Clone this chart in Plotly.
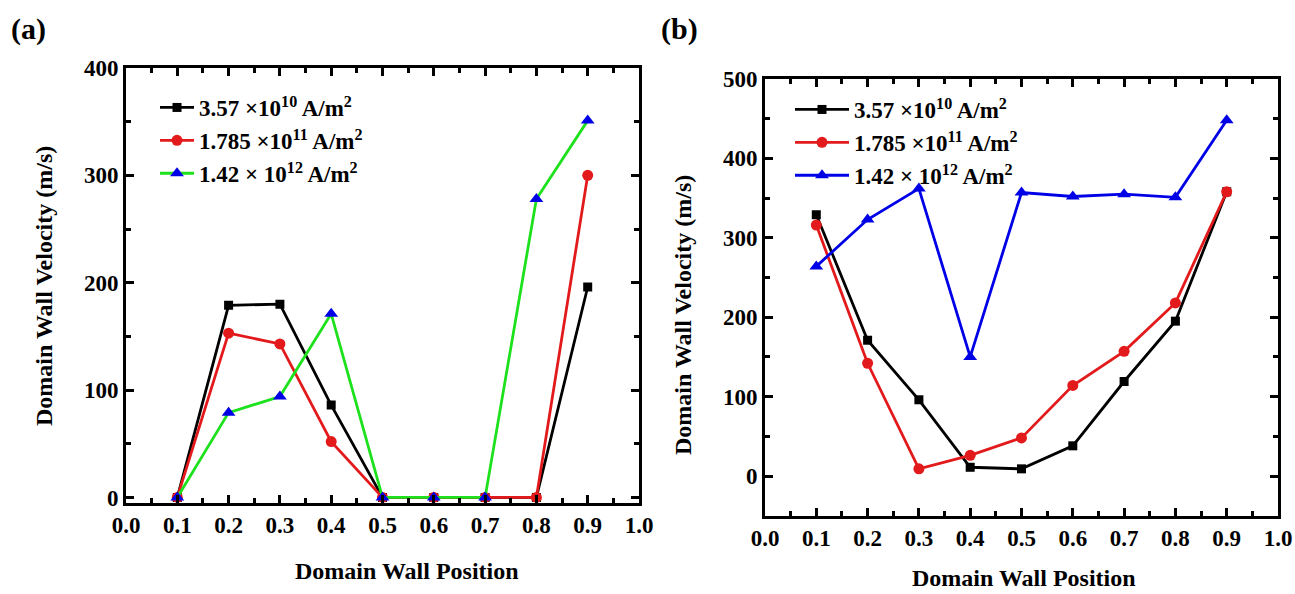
import plotly.graph_objects as go

W, H = 1295, 594

positions = [0.1, 0.2, 0.3, 0.4, 0.5, 0.6, 0.7, 0.8, 0.9]
series_names = [
    "3.57 ×10<sup>10</sup> A/m<sup>2</sup>",
    "1.785 ×10<sup>11</sup> A/m<sup>2</sup>",
    "1.42 × 10<sup>12</sup> A/m<sup>2</sup>",
]

# panel (a)
a_low = [0, 179, 180, 86, 0, 0, 0, 0, 196]
a_mid = [0, 153, 143, 52, 0, 0, 0, 0, 300]
a_high = [0, 79, 94, 171, 0, 0, 0, 278, 351]

# panel (b)
b_low = [329, 171, 96, 11, 9, 38, 119, 195, 358]
b_mid = [316, 142, 9, 26, 48, 114, 157, 218, 358]
b_high = [264, 323, 362, 150, 357, 352, 355, 351, 448]

x_ticks = [0.0, 0.1, 0.2, 0.3, 0.4, 0.5, 0.6, 0.7, 0.8, 0.9, 1.0]

FONT = "Liberation Serif, Times New Roman, Times, serif"
BLACK = "#000000"
RED = "#e31a1c"
GREEN = "#1ee11e"
BLUE = "#0000e6"


def px(x):
    return x / W


def py(y):
    return 1 - y / H


fig = go.Figure()

styles = [
    (BLACK, BLACK, "square", 9),
    (RED, RED, "circle", 11),
    (GREEN, BLUE, "triangle-up", 12),
]
for vals, name, (lc, mc, sym, ms) in zip(
    [a_low, a_mid, a_high], series_names, styles
):
    fig.add_trace(go.Scatter(
        x=positions, y=vals, name=name, mode="lines+markers",
        line=dict(color=lc, width=2.8),
        marker=dict(color=mc, symbol=sym, size=ms),
        xaxis="x", yaxis="y", legend="legend",
    ))

styles_b = [
    (BLACK, BLACK, "square", 9),
    (RED, RED, "circle", 11),
    (BLUE, BLUE, "triangle-up", 12),
]
for vals, name, (lc, mc, sym, ms) in zip(
    [b_low, b_mid, b_high], series_names, styles_b
):
    fig.add_trace(go.Scatter(
        x=positions, y=vals, name=name, mode="lines+markers",
        line=dict(color=lc, width=2.8),
        marker=dict(color=mc, symbol=sym, size=ms),
        xaxis="x2", yaxis="y2", legend="legend2",
    ))

tickfont = dict(family=FONT, size=23, color="black", weight="bold")


def xaxis(domain, anchor):
    return dict(
        domain=domain, anchor=anchor, range=[0, 1], automargin=False,
        tickmode="array", tickvals=x_ticks,
        ticktext=[f"{v:.1f}" for v in x_ticks],
        ticks="inside", ticklen=8, tickwidth=2.5, tickcolor="black",
        minor=dict(ticks="inside", ticklen=5, tickwidth=2.5, dtick=0.05,
                   tick0=0, tickcolor="black", showgrid=False),
        showline=True, linewidth=2.8, linecolor="black", mirror="allticks",
        showgrid=False, zeroline=False, tickfont=tickfont,
    )


def yaxis(domain, anchor, rng):
    return dict(
        domain=domain, anchor=anchor, range=rng, automargin=False,
        dtick=100, tick0=0,
        ticks="inside", ticklen=8, tickwidth=2.5, tickcolor="black",
        minor=dict(ticks="inside", ticklen=5, tickwidth=2.5, dtick=50,
                   tick0=0, tickcolor="black", showgrid=False),
        showline=True, linewidth=2.8, linecolor="black", mirror="allticks",
        showgrid=False, zeroline=False, tickfont=tickfont,
    )


legfont = dict(family=FONT, size=23, color="black", weight="bold")

fig.update_layout(
    template="none",
    width=W, height=H,
    margin=dict(l=0, r=0, t=0, b=0, pad=0, autoexpand=False),
    paper_bgcolor="white", plot_bgcolor="white",
    font=dict(family=FONT, color="black"),
    xaxis=xaxis([px(126), px(639)], "y"),
    yaxis=yaxis([py(502.5), py(68)], "x", [-4.7, 400]),
    xaxis2=xaxis([px(765), px(1278)], "y2"),
    yaxis2=yaxis([py(515.7), py(79)], "x2", [-50, 500]),
    legend=dict(x=px(155), y=py(86), xanchor="left", yanchor="top",
                font=legfont, bgcolor="rgba(0,0,0,0)", tracegroupgap=0,
                itemwidth=34, borderwidth=0),
    legend2=dict(x=px(790), y=py(88), xanchor="left", yanchor="top",
                 font=legfont, bgcolor="rgba(0,0,0,0)", tracegroupgap=0,
                 itemwidth=54, borderwidth=0),
    showlegend=True,
)

ann_font = dict(family=FONT, size=24, color="black", weight="bold")
annotations = [
    dict(text="(a)", x=px(29), y=py(29), font=dict(family=FONT, size=30, color="black", weight="bold")),
    dict(text="(b)", x=px(680), y=py(29), font=dict(family=FONT, size=30, color="black", weight="bold")),
    dict(text="Domain Wall Position", x=px(407), y=py(571), font=ann_font),
    dict(text="Domain Wall Position", x=px(1024), y=py(578), font=ann_font),
    dict(text="Domain Wall Velocity (m/s)", x=px(44), y=py(286), textangle=-90, font=ann_font),
    dict(text="Domain Wall Velocity (m/s)", x=px(683), y=py(315), textangle=-90, font=ann_font),
]
for a in annotations:
    a.update(xref="paper", yref="paper", xanchor="center", yanchor="middle", showarrow=False)
fig.update_layout(annotations=annotations)

post = ("document.body.style.margin='0';"
        "document.body.style.padding='0';"
        "document.body.style.overflow='hidden';"
        "document.documentElement.style.overflow='hidden';")

fig.write_html("out.html", post_script=post, config={"displayModeBar": False})
